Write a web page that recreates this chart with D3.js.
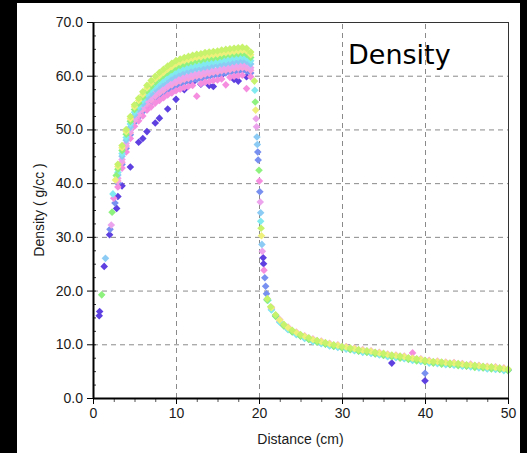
<!DOCTYPE html>
<html lang="en">
<head>
    <meta charset="UTF-8">
    <title>Density</title>
    <style>
        html, body { margin: 0; padding: 0; background: #000; }
        svg { display: block; }
        .tick text { font-family: "Liberation Sans", Arial, sans-serif; font-size: 14px; fill: #1a1a1a; }
    </style>
</head>
<body>
    <script src="https://cdn.jsdelivr.net/npm/d3@7"></script>
    <script>
        // ---- data ----
        const xTickValues = [0, 10, 20, 30, 40, 50];
        const yTickValues = [0, 10, 20, 30, 40, 50, 60, 70];

        const seriesColors = ["#c6f26c", "#eef07c", "#8ef27e", "#80eaf0", "#8cccf4",
                              "#eca4ec", "#f7a2dc", "#7890f0", "#f68ee0", "#5e40e0"];
        // bottom series are painted first
        const drawOrder = [9, 7, 8, 6, 5, 4, 3, 2, 1, 0];

        // leading edge, x < 3 cm (sparse)
        const frontDistance = [
            [], [2.7], [1.05, 2.3, 2.8], [2.4], [1.5],
            [2.2], [2.9], [2.05, 2.65], [2.5], [0.75, 0.8, 1.35, 2.0, 2.85]
        ];
        const frontDensity = [
            [], [40.6], [19.2, 34.6, 41.4], [38.0], [26.0],
            [32.2], [40.5], [31.4, 36.3], [37.2], [15.3, 16.1, 24.5, 30.4, 35.3]
        ];

        // compressed region
        const riseDistance = [3, 3.5, 4, 4.5, 5, 5.5, 6, 6.5, 7, 7.5, 8, 8.5, 9, 9.5, 10, 10.5,
                              11, 11.5, 12, 12.5, 13, 13.5, 14, 14.5, 15, 15.5, 16, 16.5, 17, 17.5, 18, 18.5, 19];
        const riseDensity = [
            [43.5,47.0,50.0,52.4,54.6,55.8,57.0,58.2,59.1,59.9,60.6,61.2,61.8,62.3,62.8,63.1,63.4,63.6,63.8,64.0,64.1,64.3,64.4,64.5,64.6,64.8,64.9,65.0,65.1,65.2,65.3,65.1,64.4],
            [43.1,46.6,49.6,52.0,54.2,55.4,56.5,57.7,58.6,59.4,60.0,60.6,61.2,61.7,62.2,62.5,62.8,63.0,63.2,63.4,63.5,63.7,63.8,63.9,64.0,64.2,64.3,64.4,64.5,64.6,64.7,64.6,63.9],
            [42.6,46.1,49.1,51.5,53.7,54.9,56.0,57.2,58.0,58.8,59.5,60.1,60.6,61.1,61.6,61.9,62.2,62.4,62.6,62.8,62.9,63.1,63.2,63.3,63.4,63.6,63.8,63.9,64.0,64.1,64.2,64.0,63.4],
            [42.0,45.5,48.5,51.0,53.2,54.3,55.4,56.6,57.4,58.1,58.8,59.3,59.9,60.4,60.8,61.1,61.4,61.6,61.8,62.0,62.1,62.3,62.4,62.6,62.7,62.9,63.0,63.1,63.3,63.4,63.5,63.3,62.8],
            [41.5,45.0,48.0,50.4,52.7,53.8,54.8,56.0,56.7,57.5,58.1,58.6,59.2,59.6,60.1,60.4,60.7,60.9,61.1,61.3,61.4,61.6,61.7,61.9,62.0,62.2,62.3,62.4,62.6,62.7,62.8,62.7,62.2],
            [40.9,44.4,47.4,49.8,52.1,53.2,54.2,55.3,56.0,56.8,57.4,57.9,58.4,58.9,59.3,59.6,59.9,60.1,60.3,60.5,60.6,60.9,61.0,61.1,61.2,61.4,61.6,61.7,61.9,62.0,62.1,62.0,61.5],
            [40.4,43.9,46.9,49.4,51.7,52.7,53.7,54.8,55.5,56.2,56.8,57.3,57.9,58.3,58.7,59.0,59.3,59.5,59.7,59.9,60.0,60.3,60.4,60.6,60.7,60.9,61.0,61.1,61.3,61.4,61.5,61.4,61.0],
            [40.0,43.5,46.5,49.0,51.3,52.3,53.3,54.3,55.0,55.7,56.2,56.8,57.3,57.7,58.1,58.4,58.7,58.9,59.1,59.3,59.4,59.7,59.8,60.0,60.1,60.3,60.5,60.6,60.7,60.8,60.9,60.9,60.5],
            [39.3,42.8,45.8,48.3,50.6,51.6,52.5,53.6,54.2,54.9,55.4,55.9,56.4,56.8,57.2,57.5,57.8,58.0,58.2,56.2,58.5,58.8,58.9,59.1,59.2,59.4,58.3,59.7,59.9,60.0,60.1,57.6,59.8],
            [37.5,39.5,null,43.0,null,47.6,48.3,49.6,null,51.2,52.1,null,53.8,null,55.6,null,57.4,null,58.7,null,58.4,null,58.2,58.0,null,60.1,null,null,59.3,59.0,null,59.8,null]
        ];

        // the sharp drop near 20 cm
        const shockDistance = [
            [19.45, 20.25, 21.4], [19.6, 20.3], [19.55, 20.0], [19.5, 20.2, 21.1],
            [19.75, 19.8, 20.2, 20.35], [19.65, 19.7, 20.15, 20.4], [],
            [19.85, 19.9, 20.1, 20.7, 20.8, 20.9], [20.05, 20.6], [20.5, 20.55]
        ];
        const shockDensity = [
            [59.0, 31.6, 17.0], [53.6, 30.2], [55.1, 42.4], [57.3, 32.9, 18.2],
            [48.6, 47.2, 34.5, 28.6], [52.0, 50.5, 36.5, 27.3], [],
            [45.8, 44.3, 38.4, 22.4, 20.8, 19.4], [40.4, 23.8], [26.1, 25.0]
        ];

        // decaying tail, two interleaved sampling grids
        const tailDistanceA = [21,22,23,24,25,26,27,28,29,30,31,32,33,34,35,36,37,38,39,40,41,42,43,44,45,46,47,48,49,50];
        const tailDistanceB = [21.5,22.5,23.5,24.5,25.5,26.5,27.5,28.5,29.5,30.5,31.5,32.5,33.5,34.5,35.5,36.5,37.5,38.5,39.5,40.5,41.5,42.5,43.5,44.5,45.5,46.5,47.5,48.5,49.5];
        const tailGrid = ["A", "B", "A", "B", "A", "B", "B", "A", "B", "A"];
        const tailDensity = [
            [18.5,15.5,13.7,12.6,11.8,11.2,10.7,10.3,9.9,9.6,9.3,9.0,8.8,8.5,8.3,8.0,7.8,7.5,7.3,7.0,6.8,6.7,6.5,6.4,6.2,6.1,5.9,5.8,5.6,5.4],
            [16.8,14.5,13.1,12.2,11.5,10.9,10.5,10.1,9.8,9.5,9.2,8.9,8.7,8.4,8.1,7.9,7.7,7.4,7.2,6.9,6.8,6.6,6.5,6.3,6.2,6.0,5.8,5.7,5.5],
            [18.2,15.2,13.4,12.3,11.5,10.9,10.4,10.0,9.6,9.3,9.0,8.7,8.5,8.2,7.9,7.7,7.4,7.2,6.9,6.7,6.5,6.3,6.2,6.0,5.9,5.7,5.6,5.4,5.3,5.1],
            [16.4,14.1,12.7,11.8,11.1,10.5,10.1,9.7,9.4,9.1,8.8,8.5,8.3,8.0,7.7,7.5,7.3,7.0,6.8,6.5,6.4,6.2,6.1,5.9,5.8,5.6,5.4,5.3,5.1],
            [18.4,15.4,13.6,12.5,11.7,11.1,10.6,10.2,9.8,9.5,9.2,8.9,8.7,8.4,8.2,7.9,7.7,7.4,7.2,6.9,6.7,6.6,6.4,6.3,6.1,6.0,5.8,5.7,5.5,5.3],
            [16.6,14.3,12.9,12.0,11.3,10.7,10.3,9.9,9.6,9.3,9.0,8.7,8.5,8.2,7.9,7.7,7.5,7.2,7.0,6.7,6.6,6.4,6.3,6.1,6.0,5.8,5.6,5.5,5.3],
            [16.9,14.6,13.2,12.3,11.6,11.0,10.6,10.2,9.9,9.6,9.3,9.0,8.8,8.5,8.2,8.0,7.8,7.5,7.3,7.0,6.9,6.7,6.6,6.4,6.3,6.1,5.9,5.8,5.6],
            [18.3,15.3,13.5,12.4,11.6,11.0,10.5,10.1,9.7,9.4,9.1,8.8,8.6,8.3,8.0,7.8,7.6,7.3,7.1,4.6,6.6,6.5,6.3,6.2,6.0,5.9,5.7,5.6,5.4,5.2],
            [16.5,14.2,12.8,11.9,11.2,10.6,10.2,9.8,9.5,9.2,8.9,8.6,8.4,8.1,7.8,7.6,7.4,8.4,6.9,6.6,6.5,6.3,6.2,6.0,5.9,5.7,5.5,5.4,5.2],
            [18.3,15.3,13.5,12.4,11.6,11.0,10.5,10.1,9.7,9.4,9.1,8.8,8.6,8.3,8.0,6.5,7.6,7.3,7.1,3.2,6.6,6.5,6.3,6.2,6.0,5.9,5.7,5.6,5.4,5.2]
        ];
    </script>
    <script>
        const width = 527, height = 453;
        const plotLeft = 93, plotRight = 508, plotTop = 22, plotBottom = 398;

        const x = d3.scaleLinear().domain([0, 50]).range([plotLeft, plotRight]);
        const y = d3.scaleLinear().domain([0, 70]).range([plotBottom, plotTop]);

        // build point list per series
        const series = drawOrder.map(i => {
            const pts = [];
            frontDistance[i].forEach((d, j) => pts.push([d, frontDensity[i][j]]));
            riseDistance.forEach((d, j) => {
                if (riseDensity[i][j] != null) pts.push([d, riseDensity[i][j]]);
            });
            shockDistance[i].forEach((d, j) => pts.push([d, shockDensity[i][j]]));
            const grid = tailGrid[i] === "A" ? tailDistanceA : tailDistanceB;
            grid.forEach((d, j) => pts.push([d, tailDensity[i][j]]));
            return { color: seriesColors[i], pts };
        });

        const svg = d3.select("body").append("svg")
            .attr("width", width)
            .attr("height", height);

        // white chart panel on black page
        svg.append("rect")
            .attr("x", 17).attr("y", 3)
            .attr("width", 503).attr("height", 450)
            .attr("fill", "#fff");

        // dashed grid
        svg.append("g")
            .attr("transform", `translate(0,${plotBottom})`)
            .call(d3.axisBottom(x).tickValues(xTickValues.slice(1, -1)).tickSize(-(plotBottom - plotTop)).tickFormat(""))
            .call(g => g.select(".domain").remove())
            .call(g => g.selectAll("line").attr("stroke", "#8a8a8a").attr("stroke-dasharray", "5,4"));
        svg.append("g")
            .attr("transform", `translate(${plotLeft},0)`)
            .call(d3.axisLeft(y).tickValues(yTickValues.slice(1, -1)).tickSize(-(plotRight - plotLeft)).tickFormat(""))
            .call(g => g.select(".domain").remove())
            .call(g => g.selectAll("line").attr("stroke", "#8a8a8a").attr("stroke-dasharray", "5,4"));

        // diamonds
        const diamond = "M0,-3.8L3.8,0L0,3.8L-3.8,0Z";
        svg.append("g")
            .selectAll("g")
            .data(series)
            .join("g")
            .attr("fill", d => d.color)
            .selectAll("path")
            .data(d => d.pts)
            .join("path")
            .attr("d", diamond)
            .attr("transform", d => `translate(${x(d[0])},${y(d[1])})`);

        // frame: thin top/right, heavy left/bottom
        svg.append("rect")
            .attr("x", plotLeft + 0.5).attr("y", plotTop + 0.5)
            .attr("width", plotRight - plotLeft).attr("height", plotBottom - plotTop)
            .attr("fill", "none").attr("stroke", "#333").attr("stroke-width", 1);

        // minor ticks
        svg.append("g")
            .attr("transform", `translate(${plotLeft},0)`)
            .call(d3.axisLeft(y).tickValues(d3.range(2.5, 70, 2.5)).tickSize(-3).tickFormat(""))
            .call(g => g.select(".domain").remove())
            .call(g => g.selectAll("line").attr("stroke", "#333"));
        svg.append("g")
            .attr("transform", `translate(0,${plotBottom})`)
            .call(d3.axisBottom(x).tickValues(d3.range(2.5, 50, 2.5)).tickSize(4).tickFormat(""))
            .call(g => g.select(".domain").remove())
            .call(g => g.selectAll("line").attr("stroke", "#555"));

        // main axes
        svg.append("g")
            .attr("transform", `translate(${plotLeft},0)`)
            .call(d3.axisLeft(y).tickValues(yTickValues).tickFormat(d3.format(".1f")).tickSize(6).tickPadding(4).tickSizeOuter(0))
            .call(g => g.select(".domain").attr("stroke", "#000").attr("stroke-width", 2));
        svg.append("g")
            .attr("transform", `translate(0,${plotBottom})`)
            .call(d3.axisBottom(x).tickValues(xTickValues).tickFormat(d3.format("d")).tickSize(6).tickPadding(4).tickSizeOuter(0))
            .call(g => g.select(".domain").attr("stroke", "#000").attr("stroke-width", 2));

        // axis titles
        svg.append("text")
            .attr("x", (plotLeft + plotRight) / 2)
            .attr("y", 444)
            .attr("text-anchor", "middle")
            .style("font", "14px 'Liberation Sans', Arial, sans-serif")
            .attr("fill", "#1a1a1a")
            .text("Distance (cm)");
        svg.append("text")
            .attr("transform", `translate(44,${(plotTop + plotBottom) / 2}) rotate(-90)`)
            .attr("text-anchor", "middle")
            .style("font", "14px 'Liberation Sans', Arial, sans-serif")
            .attr("fill", "#1a1a1a")
            .text("Density ( g/cc )");

        // in-plot title
        svg.append("text")
            .attr("x", 348)
            .attr("y", 64)
            .style("font", "27px 'Comic Sans MS', 'DejaVu Sans', sans-serif")
            .attr("fill", "#000")
            .text("Density");
    </script>
</body>
</html>
